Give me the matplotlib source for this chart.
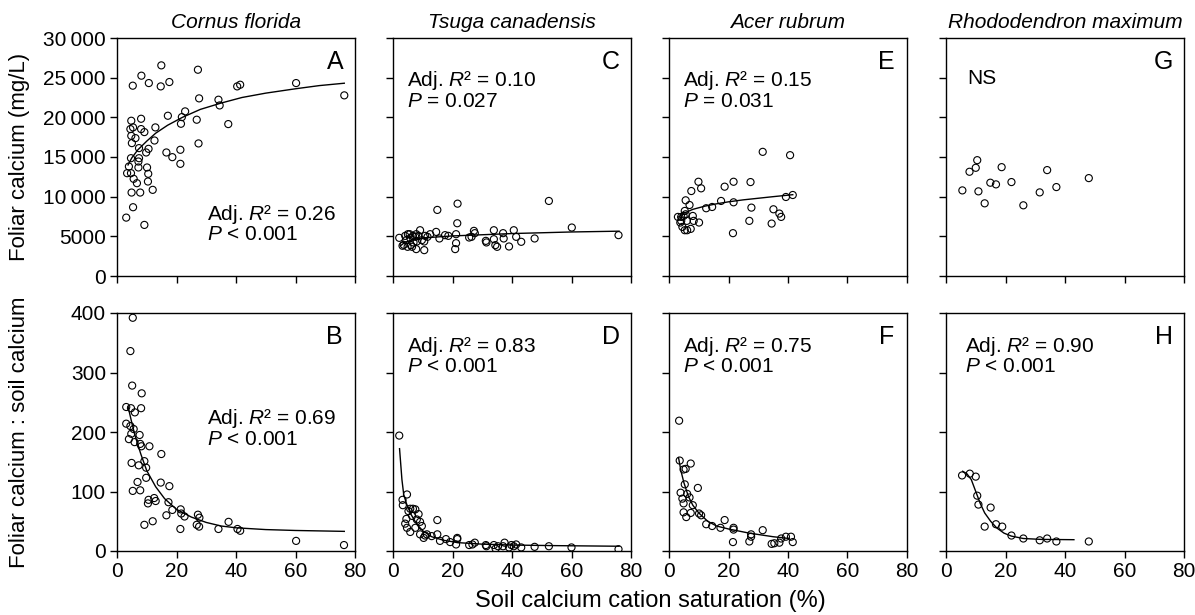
import matplotlib
matplotlib.use('Agg')
import matplotlib.pyplot as plt

plt.rcParams['font.family'] = ['Liberation Sans', 'DejaVu Sans']
plt.rcParams['mathtext.fontset'] = 'custom'
plt.rcParams['mathtext.rm'] = 'Liberation Sans'
plt.rcParams['mathtext.it'] = 'Liberation Sans:italic'
plt.rcParams['mathtext.bf'] = 'Liberation Sans:bold'

species = ['Cornus florida', 'Tsuga canadensis', 'Acer rubrum', 'Rhododendron maximum']
x_ticks = [0, 20, 40, 60, 80]
top_ticks = [0, 5000, 10000, 15000, 20000, 25000, 30000]
top_tick_labels = ['0', '5000', '10\u2009000', '15\u2009000', '20\u2009000', '25\u2009000', '30\u2009000']
bot_ticks = [0, 100, 200, 300, 400]
bot_tick_labels = ['0', '100', '200', '300', '400']

# --- foliar calcium (mg/L), top row ---
a_x = [3.1, 5.3, 5.4, 4.8, 4.5, 5.4, 4.8, 6.2, 5.0, 4.7, 4.0, 3.4, 4.7, 5.6, 6.7, 4.9, 7.8, 9.2,
       8.2, 10.7, 8.1, 8.1, 9.2, 7.4, 7.4, 7.2, 7.2, 9.8, 10.6, 10.1, 10.5, 10.4, 12.0, 12.6, 12.9,
       14.9, 14.7, 17.6, 17.1, 16.6, 18.6, 21.3, 21.3, 21.5, 21.8, 22.9, 26.8, 27.2, 27.6, 27.4,
       34.1, 34.5, 37.4, 40.4, 41.4, 60.2, 76.4]
a_y = [7360, 23990, 8670, 19570, 18520, 18730, 17670, 17380, 16750, 14850, 13800, 12960, 12960,
       12250, 11700, 10520, 10520, 6440, 25250, 24320, 19820, 18520, 18140, 16120, 14850, 14430,
       13680, 15570, 16030, 13680, 12880, 11910, 10860, 17080, 18730, 26550, 23900, 24450, 20200,
       15570, 14980, 15910, 14140, 19190, 20030, 20750, 19700, 26000, 22390, 16710, 22220, 21500,
       19150, 23900, 24110, 24320, 22770]
a_fit_x = [3.7, 5, 7, 10, 13, 17, 22, 28, 35, 42, 50, 60, 68, 76.4]
a_fit_y = [14000, 14900, 15900, 17000, 18000, 19000, 20000, 21000, 21800, 22500, 23050, 23600,
           24000, 24300]

c_x = [2.1, 3.2, 3.6, 4.1, 4.5, 4.9, 5.0, 5.6, 5.8, 6.0, 6.7, 6.9, 7.5, 7.8, 8.0, 8.6, 9.1, 9.7,
       10.5, 10.8, 10.5, 11.6, 12.5, 14.5, 7.8, 6.4, 14.9, 21.7, 21.6, 52.4, 60.1, 75.8, 35.0,
       15.6, 17.5, 18.6, 21.2, 21.2, 20.9, 25.6, 26.4, 27.2, 27.5, 31.2, 31.4, 33.9, 33.9, 34.4,
       37.0, 37.2, 39.0, 40.6, 41.4, 43.1, 47.6]
c_y = [4810, 3810, 3930, 5060, 4520, 3680, 5270, 5270, 4770, 3890, 5060, 4230, 4940, 5270, 4350,
       5060, 5770, 4520, 4350, 5060, 3260, 4940, 5270, 5560, 3390, 3680, 8330, 9120, 6650, 9460,
       6110, 5150, 3680, 4730, 5150, 5060, 5270, 4140, 3390, 4850, 4940, 5690, 5400, 4430, 4230,
       5770, 4640, 3890, 5400, 4730, 3720, 5770, 4940, 4310, 4730]
c_fit_x = [2.5, 4, 7, 10, 20, 30, 40, 50, 60, 76]
c_fit_y = [3800, 4250, 4600, 4800, 5050, 5200, 5350, 5450, 5550, 5650]

e_x = [31.5, 40.7, 9.9, 10.8, 7.5, 18.7, 21.7, 27.4, 5.6, 6.9, 5.3, 5.6, 17.5, 21.7, 12.5, 14.5,
       27.7, 35.1, 37.1, 37.7, 39.3, 41.6, 3.0, 4.1, 4.9, 4.1, 3.8, 6.0, 8.0, 8.3, 10.1, 4.5, 5.3,
       6.1, 7.3, 21.5, 27.0, 34.5]
e_y = [15650, 15230, 11880, 11050, 10710, 11260, 11880, 11840, 9540, 8950, 8200, 7780, 9460,
       9290, 8540, 8700, 8620, 8410, 7870, 7450, 9960, 10210, 7450, 7450, 7570, 6950, 6740, 6950,
       7570, 6950, 6740, 6190, 5770, 5770, 5940, 5400, 6950, 6610]
e_fit_x = [3, 5, 8, 12, 16, 20, 25, 30, 35, 41.6]
e_fit_y = [7400, 7900, 8400, 8800, 9100, 9350, 9600, 9800, 10000, 10250]

g_x = [5.5, 7.9, 10.0, 10.5, 10.9, 13.0, 14.9, 16.8, 18.7, 22.0, 26.0, 31.5, 34.0, 37.1, 48.0]
g_y = [10790, 13140, 13640, 14600, 10670, 9160, 11760, 11550, 13720, 11840, 8910, 10540, 13350,
       11210, 12340]

# --- foliar calcium : soil calcium, bottom row ---
b_x = [5.3, 4.5, 5.1, 8.3, 3.1, 4.7, 8.1, 6.0, 3.1, 4.5, 5.6, 4.8, 4.0, 5.9, 7.6, 7.8, 8.2, 10.9,
       9.2, 4.9, 7.3, 9.8, 14.9, 9.8, 6.9, 14.7, 17.6, 7.8, 5.3, 10.6, 10.4, 12.5, 13.0, 17.3,
       18.6, 16.6, 21.4, 21.6, 22.7, 27.2, 27.7, 26.8, 27.6, 21.3, 12.0, 9.2, 34.1, 37.5, 40.5,
       41.4, 60.2, 76.3]
b_y = [392, 336, 278, 265, 242, 240, 240, 233, 214, 210, 205, 197, 188, 183, 195, 180, 176, 176,
       151, 148, 144, 140, 163, 123, 116, 115, 109, 102, 101, 86, 80, 89, 84, 82, 69, 60, 70, 63,
       58, 61, 56, 44, 41, 37, 50, 44, 37, 49, 37, 34, 17, 10]
b_fit_x = [3.7, 5, 6, 8, 10, 13, 16, 20, 25, 30, 35, 40, 50, 60, 76.4]
b_fit_y = [243, 215, 195, 163, 135, 108, 88, 70, 57, 48, 42, 39, 36, 34.5, 33]

d_x = [2.1, 4.7, 3.2, 3.3, 5.8, 6.7, 7.5, 5.2, 4.5, 4.1, 4.7, 5.8, 6.4, 8.6, 8.0, 9.1, 9.7, 7.5,
       9.1, 10.3, 10.8, 11.4, 13.0, 14.9, 14.9, 15.8, 17.8, 19.2, 21.6, 21.2, 21.6, 25.6, 26.7,
       27.5, 31.2, 31.4, 33.9, 34.5, 35.3, 37.0, 37.5, 39.0, 39.8, 40.6, 41.4, 43.1, 47.6, 52.4,
       60.0, 75.8]
d_y = [194, 95, 86, 77, 71, 71, 70, 67, 54, 46, 39, 32, 59, 62, 53, 49, 42, 39, 28, 22, 26, 28,
       25, 52, 28, 17, 20, 15, 22, 11, 20, 10, 11, 14, 10, 8, 10, 4, 8, 8, 14, 6, 10, 8, 11, 6, 7,
       8, 6, 3]
d_fit_x = [2.2, 3, 3.6, 4.5, 6, 8, 10, 13, 17, 22, 30, 40, 55, 76]
d_fit_y = [172, 120, 95, 80, 62, 45, 34, 24, 18, 14, 11.5, 10, 9, 8]

f_x = [3.4, 3.6, 7.3, 4.9, 5.6, 5.3, 9.7, 3.9, 6.1, 6.9, 4.5, 4.9, 8.0, 7.3, 4.9, 5.8, 10.1, 10.8,
       12.5, 14.5, 17.3, 18.7, 21.7, 21.7, 21.5, 27.0, 27.6, 27.6, 31.5, 34.5, 35.4, 37.1, 37.7,
       39.3, 41.0, 41.6]
f_y = [219, 152, 147, 137, 138, 112, 106, 98, 96, 90, 88, 80, 77, 64, 65, 57, 63, 60, 45, 42, 39,
       52, 39, 36, 15, 16, 28, 24, 35, 12, 13, 14, 21, 24, 24, 15]
f_fit_x = [3.2, 4, 5, 6.5, 8, 10, 13, 16, 20, 27, 35, 40.4]
f_fit_y = [157, 135, 115, 92, 77, 64, 50, 42, 37, 30, 24, 21]

h_x = [5.4, 8.0, 10.0, 10.5, 10.9, 15.0, 13.0, 16.8, 18.9, 22.0, 26.0, 31.5, 34.0, 37.1, 48.0]
h_y = [127, 130, 125, 93, 78, 73, 41, 45, 41, 26, 21, 18, 21, 16, 16]
h_fit_x = [5.6, 7, 8.5, 10, 11.5, 13, 15, 17, 19.5, 22, 26, 32, 43]
h_fit_y = [134, 130, 120, 100, 80, 64, 50, 39, 30, 25, 21, 19.5, 19]

top_data = [(a_x, a_y, a_fit_x, a_fit_y), (c_x, c_y, c_fit_x, c_fit_y),
            (e_x, e_y, e_fit_x, e_fit_y), (g_x, g_y, None, None)]
bot_data = [(b_x, b_y, b_fit_x, b_fit_y), (d_x, d_y, d_fit_x, d_fit_y),
            (f_x, f_y, f_fit_x, f_fit_y), (h_x, h_y, h_fit_x, h_fit_y)]
top_letters = ['A', 'C', 'E', 'G']
bot_letters = ['B', 'D', 'F', 'H']
top_stats = ['Adj. $R$\u00b2 = 0.26\n$P$ < 0.001', 'Adj. $R$\u00b2 = 0.10\n$P$ = 0.027',
             'Adj. $R$\u00b2 = 0.15\n$P$ = 0.031', 'NS']
bot_stats = ['Adj. $R$\u00b2 = 0.69\n$P$ < 0.001', 'Adj. $R$\u00b2 = 0.83\n$P$ < 0.001',
             'Adj. $R$\u00b2 = 0.75\n$P$ < 0.001', 'Adj. $R$\u00b2 = 0.90\n$P$ < 0.001']
# (x, y of block centre) in axes fraction
top_stat_pos = [(0.38, 0.222), (0.06, 0.782), (0.06, 0.782), (0.09, 0.83)]
bot_stat_pos = [(0.38, 0.517), (0.06, 0.822), (0.06, 0.822), (0.08, 0.822)]

W, H = 1195, 615
fig = plt.figure(figsize=(W / 100, H / 100), dpi=100)
lefts = [117, 393, 669, 946]
pw, ph = 238, 238
row_tops = [38, 313]


def draw_panel(ax, data, letter, stats, pos, ylim, yticks, yticklabels, show_y, show_x):
    x, y, fx, fy = data
    if fx is not None:
        ax.plot(fx, fy, color='black', lw=1.0)
    ax.scatter(x, y, s=26, facecolors='none', edgecolors='black', linewidths=0.8, zorder=3)
    ax.set_xlim(0, 80)
    ax.set_ylim(*ylim)
    ax.set_xticks(x_ticks)
    ax.set_yticks(yticks)
    if show_y:
        ax.set_yticklabels(yticklabels)
    else:
        ax.set_yticklabels([])
    if not show_x:
        ax.set_xticklabels([])
    ax.tick_params(direction='out', length=5, width=1, labelsize=15, pad=3)
    for sp in ax.spines.values():
        sp.set_linewidth(1)
    ax.text(0.915, 0.9, letter, transform=ax.transAxes, ha='center', va='center', fontsize=18)
    ax.text(pos[0], pos[1], stats, transform=ax.transAxes, ha='left', va='center',
            fontsize=15, linespacing=0.95)


for i in range(4):
    l = lefts[i] / W
    ax_t = fig.add_axes([l, 1 - (row_tops[0] + ph) / H, pw / W, ph / H])
    draw_panel(ax_t, top_data[i], top_letters[i], top_stats[i], top_stat_pos[i],
               (0, 30000), top_ticks, top_tick_labels, i == 0, False)
    ax_t.set_title(species[i], fontsize=15, style='italic', pad=7)

    ax_b = fig.add_axes([l, 1 - (row_tops[1] + ph) / H, pw / W, ph / H])
    draw_panel(ax_b, bot_data[i], bot_letters[i], bot_stats[i], bot_stat_pos[i],
               (0, 400), bot_ticks, bot_tick_labels, i == 0, True)

fig.text(20 / W, 1 - 157 / H, 'Foliar calcium (mg/L)', rotation=90, ha='center', va='center', fontsize=16)
fig.text(20 / W, 1 - 432 / H, 'Foliar calcium : soil calcium', rotation=90, ha='center', va='center', fontsize=16)
fig.text(650 / W, 1 - 601 / H, 'Soil calcium cation saturation (%)', ha='center', va='center', fontsize=17)

fig.savefig('out.png', dpi=100)
